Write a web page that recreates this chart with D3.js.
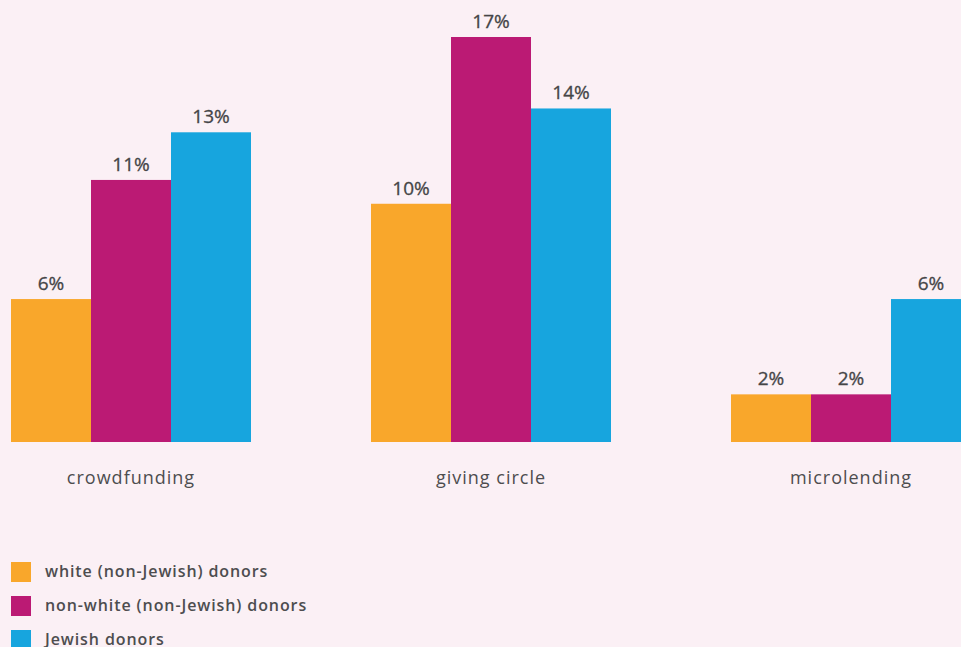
<!DOCTYPE html>
<html>
<head>
<meta charset="utf-8">
<script src="https://cdn.jsdelivr.net/npm/d3@7"></script>
<style>
html,body{margin:0;padding:0;background:#fbf0f5;overflow:hidden;}
svg{display:block;}
</style>
</head>
<body>
<svg id="chart" width="961" height="647"></svg>
<script>
const categories = ["crowdfunding", "giving circle", "microlending"];
const seriesNames = ["white (non-Jewish) donors", "non-white (non-Jewish) donors", "Jewish donors"];
const white = [6, 10, 2];
const nonWhite = [11, 17, 2];
const jewish = [13, 14, 6];
const colors = ["#f9a72b", "#bb1a74", "#17a5de"];

const seriesValues = [white, nonWhite, jewish];
const svg = d3.select("#chart");
const W = 961, H = 647;
svg.append("rect").attr("width", W).attr("height", H).attr("fill", "#fbf0f5");

const baseY = 442;
const x0 = d3.scaleBand().domain(categories).range([11, 971]).paddingInner(1/3).paddingOuter(0);
const x1 = d3.scaleBand().domain(d3.range(seriesNames.length)).range([0, x0.bandwidth()]).padding(0);
const y = d3.scaleLinear().domain([0, 17]).range([baseY, 37]);

const txtColor = "#4d4d4f";
const font = "'Open Sans', 'Noto Sans', sans-serif";

const g = svg.append("g");
categories.forEach((c, ci) => {
  const grp = g.append("g").attr("transform", `translate(${x0(c)},0)`);
  seriesValues.forEach((vals, si) => {
    const v = vals[ci];
    grp.append("rect")
      .attr("x", x1(si))
      .attr("y", y(v))
      .attr("width", x1.bandwidth())
      .attr("height", baseY - y(v))
      .attr("fill", colors[si]);
    grp.append("text")
      .attr("x", x1(si) + x1.bandwidth() / 2)
      .attr("y", y(v) - 9)
      .attr("text-anchor", "middle")
      .attr("font-family", font)
      .attr("font-size", 19)
      .attr("fill", "#454547")
      .attr("stroke", "#454547")
      .attr("stroke-width", 0.3)
      .text(v + "%");
  });
  grp.append("text")
    .attr("x", x0.bandwidth() / 2)
    .attr("y", 484)
    .attr("text-anchor", "middle")
    .attr("font-family", font)
    .attr("font-size", 18)
    .attr("letter-spacing", 1)
    .attr("fill", txtColor)
    .text(c);
});

const legend = svg.append("g");
seriesNames.forEach((name, i) => {
  const ly = 562 + i * 34;
  legend.append("rect").attr("x", 11).attr("y", ly).attr("width", 20).attr("height", 20).attr("fill", colors[i]);
  legend.append("text")
    .attr("x", 45).attr("y", ly + 15)
    .attr("font-family", font)
    .attr("font-size", 16)
    .attr("font-weight", 600)
    .attr("letter-spacing", 0.9)
    .attr("fill", txtColor)
    .text(name);
});
</script>
</body>
</html>
